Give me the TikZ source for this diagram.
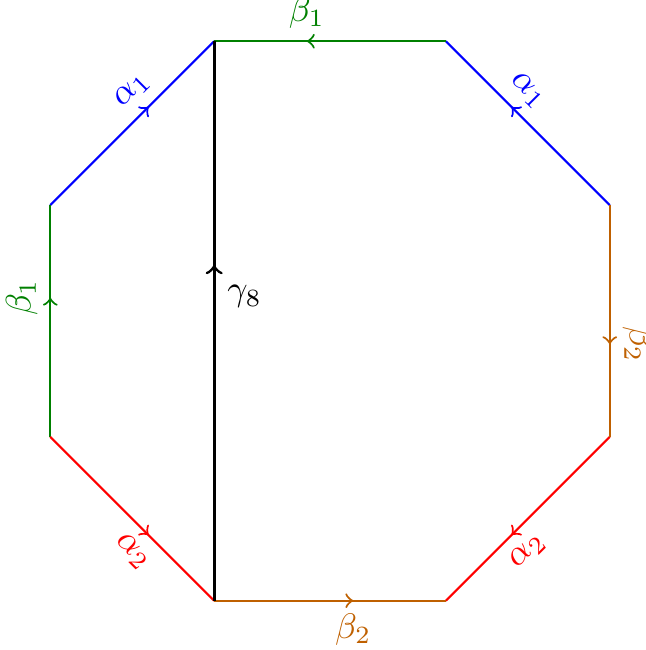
\documentclass[tikz,border=0pt]{standalone}
\usepackage{tikz}
\usetikzlibrary{decorations.markings}

\begin{document}
\begin{tikzpicture}[
  glued/.style={semithick, postaction={decorate},
    decoration={markings, mark=at position 0.6 with {\arrow{>}}}},
  lbl/.style={pos=0.6, sloped},
]
\useasboundingbox (-3.27,-3.26) rectangle (3.13,3.18);
\foreach \i in {1,...,8}
  \coordinate (v\i) at ({22.5+45*(\i-1)}:3);

% alpha_1
\draw[glued, blue] (v4) -- (v3) node[lbl, above] {$\alpha_1$};
\draw[glued, blue] (v1) -- (v2) node[lbl, above] {$\alpha_1$};
% beta_1
\draw[glued, green!50!black] (v2) -- (v3) node[lbl, above] {$\beta_1$};
\draw[glued, green!50!black] (v5) -- (v4) node[lbl, above] {$\beta_1$};
% alpha_2
\draw[glued, red] (v5) -- (v6) node[lbl, below] {$\alpha_2$};
\draw[glued, red] (v8) -- (v7) node[lbl, below] {$\alpha_2$};
% beta_2
\draw[glued, orange!75!black] (v6) -- (v7) node[lbl, below] {$\beta_2$};
\draw[glued, orange!75!black] (v1) -- (v8) node[lbl, above] {$\beta_2$};

% the chord
\draw[glued, thick] (v6) -- (v3) node[midway, above right] {$\gamma_8$};
\end{tikzpicture}
\end{document}
